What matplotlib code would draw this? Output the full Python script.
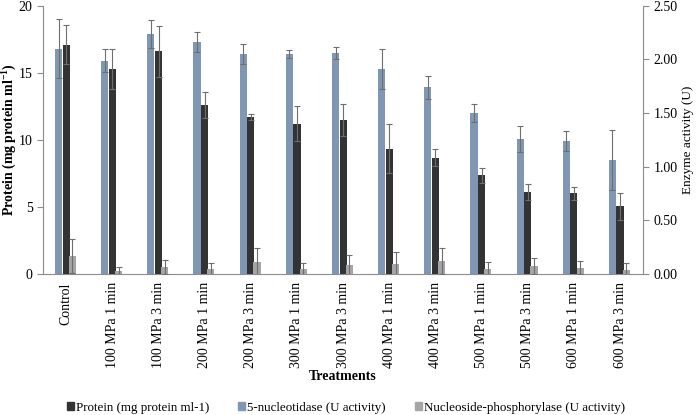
import numpy as np
import matplotlib
matplotlib.use("Agg")
import matplotlib.pyplot as plt
from matplotlib.patches import Patch

plt.rcParams['font.family'] = ['Liberation Serif', 'DejaVu Serif']
plt.rcParams['mathtext.fontset'] = 'custom'
plt.rcParams['mathtext.rm'] = 'Liberation Serif'
plt.rcParams['mathtext.bf'] = 'Liberation Serif:bold'

# Treatments
categories = ["Control", "100 MPa 1 min", "100 MPa 3 min", "200 MPa 1 min",
              "200 MPa 3 min", "300 MPa 1 min", "300 MPa 3 min", "400 MPa 1 min",
              "400 MPa 3 min", "500 MPa 1 min", "500 MPa 3 min", "600 MPa 1 min",
              "600 MPa 3 min"]

# Protein (mg protein ml-1), left axis
protein = [17.1, 15.3, 16.6, 12.6, 11.7, 11.2, 11.5, 9.35, 8.67, 7.35, 6.1, 6.0, 5.05]
protein_err = [1.45, 1.5, 1.9, 0.95, 0.2, 1.3, 1.2, 1.8, 0.62, 0.57, 0.57, 0.48, 1.0]

# 5-nucleotidase (U), right axis
nucleotidase = [2.10, 1.99, 2.24, 2.16, 2.05, 2.05, 2.06, 1.91, 1.74, 1.50, 1.255, 1.24, 1.06]
nucleotidase_err = [0.275, 0.11, 0.13, 0.094, 0.094, 0.04, 0.06, 0.19, 0.11, 0.085, 0.12, 0.09, 0.28]

# Nucleoside-phosphorylase (U), right axis
phosphorylase = [0.17, 0.025, 0.065, 0.046, 0.115, 0.046, 0.084, 0.096, 0.121, 0.047, 0.071, 0.056, 0.034]
phosphorylase_err = [0.16, 0.038, 0.069, 0.056, 0.125, 0.056, 0.094, 0.109, 0.125, 0.06, 0.075, 0.06, 0.065]

c_protein = '#333333'
c_nuc = '#8097b3'
c_phos = '#a5a5a5'
c_axis = '#8c8c8c'

fig = plt.figure(figsize=(6.96, 4.15), dpi=100)
ax = fig.add_axes([0.062, 0.340, 0.862, 0.646])
ax2 = ax.twinx()

x = np.arange(len(categories))
w = 0.155
err_kw = dict(ecolor='#6e6e6e', elinewidth=0.8, capsize=2.5, capthick=0.8)

ax2.bar(x - 0.165, nucleotidase, w, color=c_nuc, yerr=nucleotidase_err, error_kw=err_kw)
ax.bar(x, protein, w, color=c_protein, yerr=protein_err, error_kw=err_kw, zorder=3)
ax2.bar(x + 0.135, phosphorylase, w, color=c_phos, yerr=phosphorylase_err, error_kw=err_kw)

ax.set_xlim(-0.5, len(categories) - 0.5)
ax.set_ylim(0, 20)
ax2.set_ylim(0, 2.5)
ax.set_yticks([0, 5, 10, 15, 20])
ax2.set_yticks(np.arange(0, 2.51, 0.5))
ax2.set_yticklabels([f"{v:.2f}" for v in np.arange(0, 2.51, 0.5)])

ax.set_xticks(x)
ax.set_xticklabels(categories, rotation=90, fontsize=10)
ax.tick_params(axis='x', length=0, pad=6)
ax.tick_params(axis='y', labelsize=10, color=c_axis, length=4)
ax2.tick_params(axis='y', labelsize=10, color=c_axis, length=4)

for a in (ax, ax2):
    a.spines['top'].set_visible(False)
    for s in ('left', 'right', 'bottom'):
        a.spines[s].set_color(c_axis)
ax.spines['right'].set_visible(False)
ax2.spines['left'].set_visible(False)
ax2.spines['bottom'].set_visible(False)

ax.set_ylabel("Protein (mg protein ml$^{\\mathbf{-1}}$)", fontsize=10, fontweight='bold')
ax.yaxis.set_label_coords(-0.042, 0.5)
ax2.set_ylabel("Enzyme activity (U)", fontsize=9.5, labelpad=3)
ax.set_xlabel("Treatments", fontsize=10, fontweight='bold', labelpad=1)

handles = [Patch(color=c_protein), Patch(color=c_nuc), Patch(color=c_phos)]
labels = ["Protein (mg protein ml-1)", "5-nucleotidase (U activity)",
          "Nucleoside-phosphorylase (U activity)"]
fig.legend(handles, labels, loc='lower center', bbox_to_anchor=(0.497, -0.025), ncol=3,
           frameon=False, fontsize=9.4, handlelength=0.55, handleheight=0.55,
           handletextpad=0.15, columnspacing=2.2)

fig.savefig("out.png", dpi=100)
